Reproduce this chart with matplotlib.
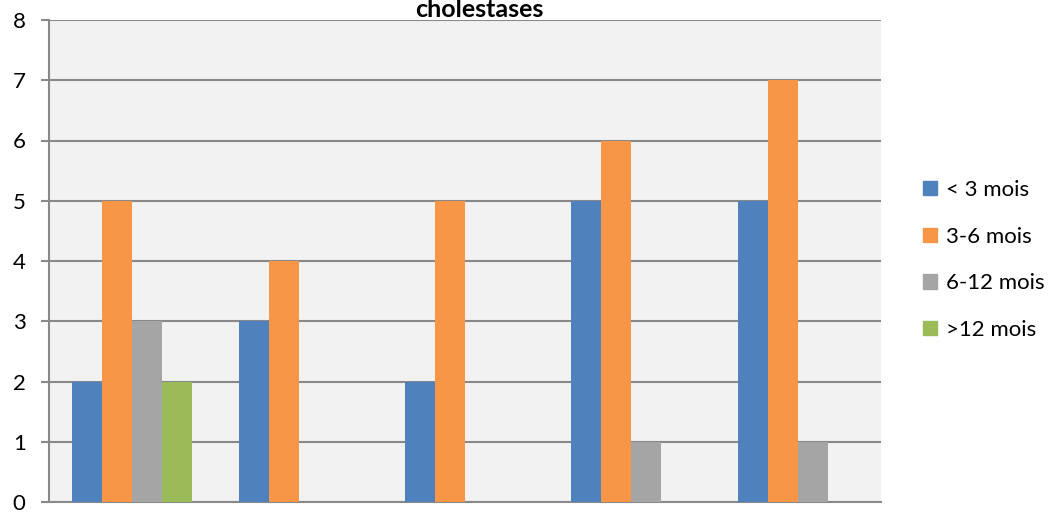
import numpy as np
import matplotlib.pyplot as plt
from matplotlib.patches import Patch

plt.rcParams['font.family'] = ['Lato', 'DejaVu Sans']

# age groups, five cholestasis categories (no labels shown on the x axis)
groups = ['', '', '', '', '']
series = ['< 3 mois', '3-6 mois', '6-12 mois', '>12 mois']
lt3 = [2, 3, 2, 5, 5]
m3_6 = [5, 4, 5, 6, 7]
m6_12 = [3, 0, 0, 1, 1]
gt12 = [2, 0, 0, 0, 0]
colors = ['#4f81bd', '#f79646', '#a5a5a5', '#9bbb59']

fig = plt.figure(figsize=(10.54, 5.12), dpi=100)
ax = fig.add_axes([49/1054, 10/512, 832/1054, 482/512])
ax.set_facecolor('#f2f2f2')

x = np.arange(len(groups))
w = 0.18
for k, vals in enumerate([lt3, m3_6, m6_12, gt12]):
    ax.bar(x + (k - 1.5) * w, vals, width=w, color=colors[k], zorder=3)

ax.set_xlim(-0.5, len(groups) - 0.5)
ax.set_ylim(0, 8)
ax.set_yticks(range(9))
ax.set_xticks([])
ax.grid(axis='y', color='#898989', linewidth=1.5, zorder=1)
ax.tick_params(axis='y', length=5.8, width=1.5, color='#898989', labelsize=16, pad=11)
for s in ['top', 'right']:
    ax.spines[s].set_visible(False)
ax.spines['left'].set_color('#898989')
ax.spines['left'].set_linewidth(1.5)
ax.spines['bottom'].set_color('#898989')
ax.spines['bottom'].set_linewidth(1.5)

fig.text(479/1054, 1 - 17/512, 'cholestases', ha='center', va='baseline',
         fontsize=18, fontweight='bold')

handles = [Patch(color=c, label=s) for c, s in zip(colors, series)]
fig.legend(handles=handles, loc='center left', bbox_to_anchor=(923/1054, 1 - 260/512),
           frameon=False, fontsize=16, handlelength=0.62, handleheight=0.62,
           handletextpad=0.4, labelspacing=1.2, borderpad=0.0, borderaxespad=0.0)

fig.savefig('out.png', dpi=100)
